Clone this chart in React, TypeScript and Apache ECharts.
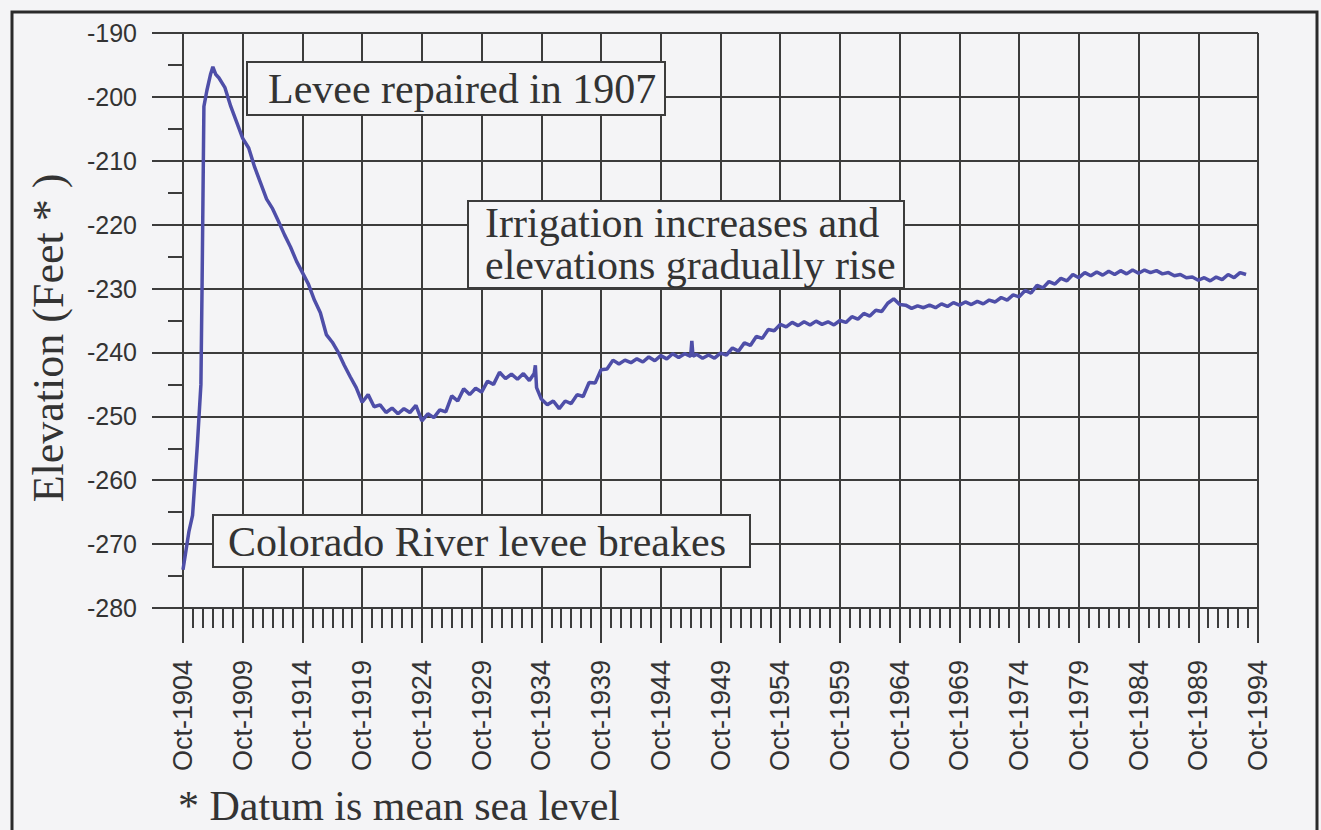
import { useEffect, useRef } from "react";
import * as echarts from "echarts";

// x values are years elapsed since Oct-1904
const tickLabels = [
  "Oct-1904", "Oct-1909", "Oct-1914", "Oct-1919", "Oct-1924", "Oct-1929", "Oct-1934",
  "Oct-1939", "Oct-1944", "Oct-1949", "Oct-1954", "Oct-1959", "Oct-1964", "Oct-1969",
  "Oct-1974", "Oct-1979", "Oct-1984", "Oct-1989", "Oct-1994",
];

// Breach and repair, 1904-1907
const breachT = [0, 0.25, 0.5, 0.8, 1.0, 1.2, 1.5, 1.6, 1.75, 2.0, 2.3, 2.5, 2.75];
const breachV = [-274, -271, -268, -265.5, -260, -254.5, -245, -229, -201.5, -199, -196.5, -195.3, -196.5];

// Decline after repair, 1907-1920
const declineT = [3.0, 3.5, 4.0, 4.5, 5.0, 5.5, 6.0, 6.5, 7.0, 7.5, 8.0, 8.5, 9.0, 9.5, 10.0, 10.5, 11.0, 11.5, 12.0, 12.5, 13.0, 13.5, 14.0, 14.5, 15.0];
const declineV = [-197, -198.5, -201.5, -204, -206.5, -208, -211, -213.5, -216, -217.5, -219.5, -221.6, -223.5, -225.7, -227.5, -229.3, -231.8, -233.8, -237.2, -238.4, -240, -242, -243.8, -245.5, -247.8];

// 1920-1950
const midT = [15.5, 16.0, 16.5, 17.0, 17.5, 18.0, 18.5, 19.0, 19.5, 20.0, 20.5, 21.0, 21.5, 22.0, 22.5, 23.0, 23.5, 24.0, 24.5, 25.0, 25.5, 26.0, 26.5, 27.0, 27.5, 28.0, 28.5, 29.0, 29.4, 29.5, 29.6, 30.0, 30.5, 31.0, 31.5, 32.0, 32.5, 33.0, 33.5, 34.0, 34.5, 35.0, 35.5, 36.0, 36.5, 37.0, 37.5, 38.0, 38.5, 39.0, 39.5, 40.0, 40.5, 41.0, 41.5, 42.0, 42.5, 42.6, 42.7, 43.0, 43.5, 44.0, 44.5, 45.0];
const midV = [-246.6, -248.5, -248.2, -249.4, -248.7, -249.6, -248.8, -249.4, -248.3, -250.7, -249.6, -250.2, -249, -249.3, -246.8, -247.6, -245.7, -246.6, -245.6, -246.2, -244.5, -245, -243.1, -244.1, -243.4, -244.2, -243.3, -244.4, -243.3, -242, -245.5, -247.3, -248.2, -247.6, -248.8, -247.6, -248, -246.6, -246.9, -244.7, -244.8, -242.7, -242.6, -241.2, -241.8, -241.2, -241.6, -241, -241.5, -240.7, -241.3, -240.5, -241, -240.2, -240.8, -240.2, -240.6, -238.2, -240.6, -240.3, -240.9, -240.4, -240.9, -240.1];

// 1950-1994
const lateT = [45.5, 46.0, 46.5, 47.0, 47.5, 48.0, 48.5, 49.0, 49.5, 50.0, 50.5, 51.0, 51.5, 52.0, 52.5, 53.0, 53.5, 54.0, 54.5, 55.0, 55.5, 56.0, 56.5, 57.0, 57.5, 58.0, 58.5, 59.0, 59.5, 60.0, 60.5, 61.0, 61.5, 62.0, 62.5, 63.0, 63.5, 64.0, 64.5, 65.0, 65.5, 66.0, 66.5, 67.0, 67.5, 68.0, 68.5, 69.0, 69.5, 70.0, 70.5, 71.0, 71.5, 72.0, 72.5, 73.0, 73.5, 74.0, 74.5, 75.0, 75.5, 76.0, 76.5, 77.0, 77.5, 78.0, 78.5, 79.0, 79.5, 80.0, 80.5, 81.0, 81.5, 82.0, 82.5, 83.0, 83.5, 84.0, 84.5, 85.0, 85.5, 86.0, 86.5, 87.0, 87.5, 88.0, 88.5, 89.0];
const lateV = [-240.4, -239.3, -239.8, -238.5, -238.9, -237.5, -237.8, -236.4, -236.6, -235.6, -236, -235.3, -235.8, -235.2, -235.7, -235.1, -235.6, -235.2, -235.7, -235, -235.3, -234.4, -234.8, -233.9, -234.3, -233.4, -233.6, -232.3, -231.6, -232.5, -232.6, -233.1, -232.7, -233, -232.6, -233, -232.4, -232.8, -232.2, -232.6, -232.1, -232.5, -232, -232.4, -231.8, -232.1, -231.4, -231.8, -231, -231.3, -230.3, -230.7, -229.5, -229.9, -228.9, -229.3, -228.4, -228.8, -227.8, -228.3, -227.5, -228, -227.4, -227.9, -227.3, -227.8, -227.2, -227.7, -227.1, -227.6, -227.1, -227.5, -227.2, -227.7, -227.5, -228, -227.8, -228.3, -228.2, -228.7, -228.3, -228.8, -228.2, -228.6, -227.8, -228.3, -227.5, -227.8];

const allT = [...breachT, ...declineT, ...midT, ...lateT];
const allV = [...breachV, ...declineV, ...midV, ...lateV];

const BG = "#f4f4f6";
const INK = "#333333";
const GRID = "#3c3c3c";
const SERIF = "'Liberation Serif', 'Times New Roman', serif";
const SANS = "'Liberation Sans', Arial, sans-serif";

export default function App() {
  const ref = useRef<HTMLDivElement>(null);

  useEffect(() => {
    document.body.style.margin = "0";
    if (!ref.current) return;
    const chart = echarts.init(ref.current, null, { renderer: "svg" });

    const box = (x: number, y: number, w: number, h: number) => ({
      type: "rect",
      z: 100,
      shape: { x, y, width: w, height: h },
      style: { fill: BG, stroke: GRID, lineWidth: 2 },
    });
    const txt = (x: number, y: number, text: string, size = 42) => ({
      type: "text",
      z: 101,
      x,
      y,
      style: {
        text,
        font: `${size}px ${SERIF}`,
        fill: INK,
        align: "left",
        verticalAlign: "middle",
      },
    });

    chart.setOption({
      animation: false,
      backgroundColor: BG,
      grid: { left: 183, top: 33, right: 63, bottom: 222, containLabel: false },
      xAxis: {
        type: "value",
        min: 0,
        max: 90,
        interval: 5,
        axisLine: { show: true, lineStyle: { color: GRID, width: 2 } },
        axisTick: { show: true, length: 35, lineStyle: { color: GRID, width: 2 } },
        minorTick: { show: true, splitNumber: 6, length: 20, lineStyle: { color: GRID, width: 2 } },
        splitLine: { show: true, lineStyle: { color: GRID, width: 2 } },
        axisLabel: {
          rotate: 90,
          margin: 52,
          fontFamily: SANS,
          fontSize: 27,
          color: INK,
          formatter: (v: number) => tickLabels[Math.round(v / 5)] ?? "",
        },
      },
      yAxis: {
        type: "value",
        min: -280,
        max: -190,
        interval: 10,
        axisLine: { show: true, lineStyle: { color: GRID, width: 2 } },
        axisTick: { show: true, length: 31, lineStyle: { color: GRID, width: 2 } },
        minorTick: { show: true, splitNumber: 2, length: 15, lineStyle: { color: GRID, width: 2 } },
        splitLine: { show: true, lineStyle: { color: GRID, width: 2 } },
        axisLabel: {
          margin: 46,
          fontFamily: SANS,
          fontSize: 25,
          color: INK,
        },
      },
      series: [
        {
          type: "line",
          data: allT.map((t, i) => [t, allV[i]]),
          showSymbol: false,
          symbol: "none",
          lineStyle: { color: "#4e4ea8", width: 3.5 },
          z: 5,
        },
      ],
      graphic: [
        {
          type: "rect",
          z: 200,
          shape: { x: 12, y: 12, width: 1305, height: 830 },
          style: { fill: "none", stroke: "#2a2a2a", lineWidth: 3 },
          silent: true,
        },
        box(247, 62, 418, 53),
        txt(268, 89, "Levee repaired in 1907"),
        box(468, 201, 436, 87),
        txt(485, 223, "Irrigation increases and"),
        txt(485, 265, "elevations gradually rise"),
        box(213, 515, 537, 52),
        txt(228, 542, "Colorado River levee breakes"),
        {
          type: "text",
          z: 101,
          x: 48,
          y: 338,
          rotation: Math.PI / 2,
          style: {
            text: "Elevation (Feet * )",
            font: `44px ${SERIF}`,
            fill: INK,
            align: "center",
            verticalAlign: "middle",
          },
        },
        txt(178, 806, "* Datum is mean sea level"),
      ],
    });

    return () => chart.dispose();
  }, []);

  return (
    <div
      ref={ref}
      style={{ position: "fixed", left: 0, top: 0, width: 1321, height: 830 }}
    />
  );
}
